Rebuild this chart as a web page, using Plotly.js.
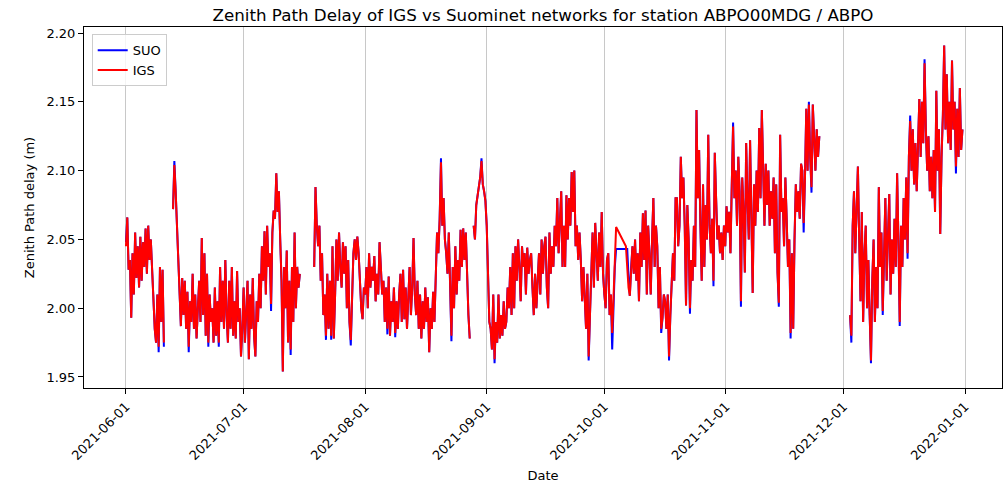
<!DOCTYPE html>
<html>
<head>
<meta charset="utf-8">
<script src="https://cdn.plot.ly/plotly-3.0.1.min.js"></script>
<style>
  html, body { margin: 0; padding: 0; background: #ffffff; }
  #chart { width: 1005px; height: 483px; }
</style>
</head>
<body>
<div id="chart"></div>
<script>
// ---- DATA (8-hour samples, segment start times) ----
const STEP_HOURS = 8;
const segStarts = ['2021-06-01T00:00:00Z', '2021-06-13T00:00:00Z', '2021-07-19T00:00:00Z',
                   '2021-08-28T16:00:00Z', '2021-10-06T12:00:00Z', '2021-12-02T16:00:00Z'];
// true = data gap drawn as a break, false = line continues to next segment
const segBreakAfter = [true, true, true, false, true, false];

const igs1 = [2.045,2.066,2.028, 2.035,1.993,2.040, 2.010,2.055,2.022, 2.045,2.015,2.052, 2.020,2.048,2.030,
              2.058,2.025,2.060, 2.035,2.050,2.028, 2.000,1.985,1.975, 2.010,1.972,2.030, 1.990,2.028,1.975];
const igs2 = [2.072,2.104,2.085, 2.060,2.040,2.015, 1.987,2.022,1.995, 2.020,1.985,2.012, 1.972,2.005,1.990,
              2.025,1.985,2.010, 1.978,2.000,2.020, 1.990,2.051,1.995, 2.040,1.980,2.025, 1.975,2.010,1.990,
              2.000,1.975,2.015, 1.980,2.005,1.975, 2.030,1.990,2.020, 1.985,2.035,1.995, 1.975,2.020,1.985,
              2.030,1.980,2.005, 1.978,2.027,1.990, 2.000,1.965,1.985, 2.015,1.975,2.000, 2.020,1.963,2.010,
              1.985,2.022,1.980, 1.965,2.005,1.990, 2.025,2.000,2.045, 2.020,2.056,2.010, 2.060,2.030,2.040,
              2.003,2.055,2.071, 2.065,2.098,2.070, 2.085,2.050,2.020, 1.954,2.030,2.000, 2.042,1.975,2.020,
              1.970,2.030,1.990, 2.055,2.000,2.030, 2.015,2.025];
const igs3 = [2.030,2.088,2.060, 2.045,2.060,2.020, 2.040,1.995,2.010, 1.980,2.025,1.985, 2.020,1.980,2.045,
              1.978,2.010,2.050, 2.020,2.055,2.030, 2.015,2.048,2.025, 2.045,2.000,2.035, 1.990,1.977,2.020,
              2.040,2.050,2.035, 2.052,2.040,2.020, 2.000,1.992,2.015, 2.010,2.030,2.000, 2.040,2.015,2.030,
              2.020,2.038,2.005, 2.025,2.010,2.048, 2.030,2.010,2.020, 1.990,2.015,1.985, 2.023,1.980,2.005,
              1.990,2.015,1.982, 2.005,1.985,2.010, 2.025,1.990,2.028, 1.992,2.015,1.985, 2.010,2.030,1.995,
              2.015,2.051,2.010, 1.995,2.020,1.985, 2.010,1.978,2.005, 1.985,2.015,1.990, 2.008,1.968,2.000,
              1.985,2.012,1.990, 2.035,2.055,2.040, 2.065,2.106,2.060, 2.080,2.050,2.040, 2.025,2.055,2.010,
              1.980,2.030,2.000, 2.045,2.010,2.035, 2.020,2.057,2.030, 2.058,2.035,2.055, 2.020,1.995,1.978];
const igs4 = [2.060,
              2.050,2.075,2.082, 2.090,2.095,2.107, 2.090,2.085,2.078, 2.060,2.012,1.990, 1.985,1.970,2.010,
              1.963,1.990,1.975, 2.010,1.978,1.995, 1.980,2.005,1.985, 1.990,2.015,2.000, 2.030,1.995,2.040,
              2.000,2.045,2.020, 2.050,2.030,2.005, 2.045,2.030,2.040, 2.010,2.044,2.025, 2.035,2.040,2.015,
              1.995,2.025,2.000, 2.020,2.040,2.010, 2.050,2.025,2.045, 2.052,2.015,2.000, 2.055,2.025,2.045,
              2.030,2.060,2.045, 2.080,2.040,2.070, 2.085,2.030,2.060, 2.030,2.082,2.050, 2.080,2.060,2.099,
              2.070,2.100,2.045, 2.060,2.035,2.055, 2.035,2.005,2.030, 2.010,1.985,2.025, 1.965,1.995,2.030,
              2.055,2.015,2.062, 2.040,2.020,2.055, 2.030,2.070,2.025, 2.010,2.000,2.035, 2.040,1.995,2.010,
              1.982,2.005,2.030,
              2.059];
const igs5 = [2.045,2.030,2.015, 2.009,2.030,2.045, 2.025,2.050,2.020, 2.040,2.005,2.055, 2.030,2.069,2.035,
              2.071,2.010,2.060, 2.040,2.010,2.050, 2.080,2.030,2.060, 2.045,2.000,2.030, 1.985,1.993,2.010,
              2.005,1.985,2.010, 1.965,1.995,2.015, 2.040,2.020,2.080, 2.080,2.045,2.060, 2.110,2.080,2.095,
              2.060,2.002,2.075, 2.050,2.000,2.035, 2.020,2.060,2.030, 2.144,2.080,2.115, 2.060,2.020,2.090,
              2.030,2.075,2.050, 2.126,2.060,2.040, 2.065,2.020,2.113, 2.080,2.050,2.060, 2.040,2.055,2.035,
              2.060,2.045,2.074, 2.055,2.070,2.040, 2.090,2.132,2.080, 2.100,2.060,2.110, 2.085,2.005,2.095,
              2.070,2.026,2.120, 2.080,2.050,2.122, 2.070,2.011,2.090, 2.060,2.100,2.070, 2.131,2.080,2.144,
              2.090,2.060,2.105, 2.075,2.100,2.060, 2.085,2.065,2.095, 2.040,2.090,2.026, 2.004,2.126,2.070,
              2.080,2.045,2.095, 2.065,2.030,2.050, 1.982,2.040,1.985, 2.050,2.090,2.070, 2.085,2.065,2.105,
              2.100,2.062,2.095, 2.145,2.100,2.148, 2.110,2.088,2.148, 2.125,2.100,2.130, 2.110,2.125];
const igs6 = [1.995,1.980,2.060,2.085,2.040,2.065,2.103,2.050,2.005,2.070,
              1.990,2.040,2.060,2.000,2.035,1.995,1.962,2.020,2.050,1.990,
              2.030,2.000,2.088,2.030,2.055,1.998,2.040,2.080,2.020,2.060,
              2.083,2.010,2.050,2.025,2.065,2.030,2.098,2.050,1.990,2.060,
              2.030,2.080,2.050,2.095,2.040,2.110,2.136,2.100,2.130,2.090,
              2.120,2.085,2.130,2.152,2.110,2.150,2.120,2.178,2.130,2.100,
              2.125,2.085,2.110,2.080,2.115,2.070,2.158,2.100,2.130,2.054,
              2.110,2.140,2.191,2.130,2.170,2.120,2.150,2.115,2.180,2.130,
              2.150,2.103,2.145,2.110,2.160,2.115,2.130];

const suo1 = [2.048,2.066,2.028, 2.035,1.993,2.040, 2.010,2.055,2.022, 2.045,2.015,2.052, 2.020,2.048,2.030,
              2.058,2.025,2.060, 2.035,2.050,2.028, 2.000,1.985,1.975, 2.010,1.968,2.030, 1.990,2.028,1.972];
const suo2 = [2.072,2.107,2.085, 2.060,2.040,2.015, 1.987,2.022,1.995, 2.020,1.985,2.012, 1.968,2.005,1.990,
              2.025,1.985,2.010, 1.978,2.000,2.020, 1.990,2.051,1.995, 2.040,1.980,2.025, 1.972,2.010,1.990,
              2.000,1.975,2.015, 1.980,2.005,1.972, 2.030,1.990,2.020, 1.985,2.035,1.995, 1.975,2.020,1.985,
              2.030,1.980,2.005, 1.978,2.027,1.990, 2.000,1.965,1.985, 2.015,1.975,2.000, 2.020,1.963,2.010,
              1.985,2.022,1.980, 1.965,2.005,1.990, 2.025,2.000,2.045, 2.020,2.056,2.010, 2.060,2.030,2.040,
              1.998,2.055,2.071, 2.065,2.098,2.070, 2.085,2.050,2.020, 1.954,2.030,2.000, 2.042,1.975,2.020,
              1.966,2.030,1.990, 2.055,2.000,2.030, 2.015,2.025];
const suo3 = [2.030,2.088,2.060, 2.045,2.060,2.020, 2.040,1.995,2.010, 1.977,2.025,1.985, 2.020,1.977,2.045,
              1.978,2.010,2.050, 2.020,2.055,2.030, 2.015,2.048,2.025, 2.045,2.000,2.035, 1.990,1.973,2.020,
              2.040,2.050,2.035, 2.052,2.040,2.020, 2.000,1.992,2.015, 2.010,2.030,2.000, 2.040,2.015,2.030,
              2.020,2.038,2.005, 2.025,2.010,2.048, 2.030,2.010,2.020, 1.990,2.015,1.981, 2.023,1.980,2.005,
              1.990,2.015,1.979, 2.005,1.985,2.010, 2.025,1.990,2.028, 1.992,2.015,1.985, 2.010,2.030,1.995,
              2.015,2.051,2.010, 1.995,2.020,1.985, 2.010,1.978,2.005, 1.985,2.015,1.990, 2.008,1.968,2.000,
              1.985,2.012,1.990, 2.035,2.055,2.040, 2.065,2.109,2.060, 2.080,2.050,2.040, 2.025,2.055,2.010,
              1.976,2.030,2.000, 2.045,2.010,2.035, 2.020,2.057,2.030, 2.058,2.035,2.055, 2.020,1.995,1.978];
const suo4 = [2.060,
              2.050,2.075,2.082, 2.090,2.095,2.109, 2.090,2.085,2.078, 2.060,2.012,1.990, 1.985,1.970,2.010,
              1.960,1.990,1.975, 2.010,1.978,1.995, 1.980,2.005,1.985, 1.990,2.015,2.000, 2.030,1.995,2.040,
              2.000,2.045,2.020, 2.050,2.030,2.005, 2.045,2.030,2.040, 2.010,2.044,2.025, 2.035,2.040,2.015,
              1.995,2.025,2.000, 2.020,2.040,2.010, 2.050,2.025,2.045, 2.052,2.015,2.000, 2.055,2.025,2.045,
              2.030,2.060,2.045, 2.080,2.040,2.070, 2.085,2.030,2.060, 2.030,2.082,2.050, 2.080,2.060,2.099,
              2.070,2.100,2.045, 2.060,2.035,2.055, 2.035,2.005,2.030, 2.010,1.985,2.025, 1.962,1.995,2.030,
              2.055,2.015,2.062, 2.040,2.020,2.055, 2.030,2.070,2.025, 2.010,2.000,2.035, 2.040,1.995,2.010,
              1.970,2.005,2.030,
              2.043];
const suo5 = [2.043,2.043,2.023, 2.009,2.030,2.045, 2.025,2.050,2.020, 2.040,2.005,2.055, 2.030,2.069,2.035,
              2.071,2.010,2.060, 2.040,2.010,2.050, 2.080,2.030,2.060, 2.045,2.000,2.030, 1.982,1.993,2.010,
              2.005,1.985,2.010, 1.962,1.995,2.015, 2.040,2.020,2.080, 2.080,2.045,2.060, 2.110,2.080,2.095,
              2.060,2.002,2.075, 2.050,1.996,2.035, 2.020,2.060,2.030, 2.144,2.080,2.115, 2.060,2.020,2.090,
              2.030,2.075,2.050, 2.126,2.060,2.040, 2.065,2.016,2.113, 2.080,2.050,2.060, 2.040,2.055,2.035,
              2.060,2.045,2.074, 2.055,2.070,2.040, 2.090,2.135,2.080, 2.100,2.060,2.110, 2.085,2.001,2.095,
              2.070,2.026,2.120, 2.080,2.050,2.122, 2.070,2.011,2.090, 2.060,2.100,2.070, 2.131,2.080,2.144,
              2.090,2.060,2.105, 2.075,2.100,2.060, 2.085,2.065,2.095, 2.040,2.090,2.026, 2.001,2.126,2.070,
              2.080,2.045,2.095, 2.065,2.030,2.050, 1.978,2.040,1.985, 2.050,2.090,2.070, 2.085,2.065,2.105,
              2.100,2.055,2.095, 2.145,2.100,2.150, 2.110,2.084,2.148, 2.125,2.100,2.130, 2.110,2.125];
const suo6 = [1.995,1.975,2.060,2.085,2.040,2.065,2.103,2.050,2.005,2.070,
              1.990,2.040,2.060,2.000,2.035,1.995,1.960,2.020,2.050,1.990,
              2.030,2.000,2.088,2.030,2.055,1.995,2.040,2.080,2.020,2.060,
              2.083,2.010,2.050,2.025,2.065,2.030,2.098,2.050,1.987,2.060,
              2.030,2.080,2.050,2.095,2.036,2.110,2.140,2.100,2.130,2.090,
              2.120,2.085,2.130,2.152,2.110,2.150,2.120,2.181,2.130,2.100,
              2.125,2.085,2.110,2.080,2.115,2.070,2.158,2.100,2.130,2.054,
              2.110,2.140,2.191,2.130,2.170,2.120,2.150,2.115,2.180,2.130,
              2.150,2.098,2.145,2.110,2.160,2.115,2.130];

const seriesNames = ['SUO', 'IGS'];
const seriesColors = ['#0000ff', '#ff0000'];
const monthTicks = ['2021-06-01','2021-07-01','2021-08-01','2021-09-01','2021-10-01','2021-11-01','2021-12-01','2022-01-01'];

// ---- build traces ----
function fmt(ms) { return new Date(ms).toISOString().slice(0, 19).replace('T', ' '); }
function build(segs) {
  const x = [], y = [];
  segs.forEach((vals, k) => {
    const t0 = Date.parse(segStarts[k]);
    vals.forEach((v, i) => { x.push(fmt(t0 + i * STEP_HOURS * 3600000)); y.push(v); });
    if (segBreakAfter[k]) { x.push(fmt(t0 + vals.length * STEP_HOURS * 3600000)); y.push(null); }
  });
  return {x, y};
}
const suo = build([suo1, suo2, suo3, suo4, suo5, suo6]);
const igs = build([igs1, igs2, igs3, igs4, igs5, igs6]);

const traces = [suo, igs].map((d, i) => ({
  type: 'scatter', mode: 'lines', x: d.x, y: d.y, name: seriesNames[i],
  line: {color: seriesColors[i], width: 2}, connectgaps: false, hoverinfo: 'skip'
}));

const font = {family: 'DejaVu Sans, sans-serif', size: 13, color: '#000000'};
const layout = {
  width: 1005, height: 483,
  margin: {l: 84, r: 3, t: 27, b: 95, pad: 0},
  paper_bgcolor: '#ffffff', plot_bgcolor: '#ffffff',
  font: font,
  title: {text: 'Zenith Path Delay of IGS vs Suominet networks for station ABPO00MDG / ABPO',
          font: {family: 'DejaVu Sans, sans-serif', size: 16.7, color: '#000000'},
          x: 0.5, xref: 'paper', xanchor: 'center', y: 0.969, yref: 'container', yanchor: 'middle'},
  xaxis: {
    type: 'date', range: ['2021-05-21 07:00', '2022-01-10 10:00'],
    tickvals: monthTicks, ticktext: monthTicks, tickangle: -45,
    showgrid: true, gridcolor: '#c8c8c8', gridwidth: 1,
    showline: true, mirror: true, linecolor: '#000000', linewidth: 1,
    ticks: 'outside', ticklen: 5, tickwidth: 1, tickcolor: '#000000',
    tickfont: font, zeroline: false,
    title: {text: 'Date', font: font, standoff: 8}
  },
  yaxis: {
    range: [1.942, 2.2044], tickmode: 'linear', tick0: 1.95, dtick: 0.05, tickformat: '.2f',
    showgrid: false, zeroline: false,
    showline: true, mirror: true, linecolor: '#000000', linewidth: 1,
    ticks: 'outside', ticklen: 5, tickwidth: 1, tickcolor: '#000000',
    tickfont: font,
    title: {text: 'Zenith Path delay (m)', font: font, standoff: 8}
  },
  legend: {
    x: 0.0084, y: 0.98, xanchor: 'left', yanchor: 'top', xref: 'paper', yref: 'paper',
    bgcolor: 'rgba(255,255,255,0.8)', bordercolor: '#cccccc', borderwidth: 1,
    font: font, traceorder: 'normal'
  },
  showlegend: true
};

Plotly.newPlot('chart', traces, layout, {displayModeBar: false, staticPlot: true});
</script>
</body>
</html>
